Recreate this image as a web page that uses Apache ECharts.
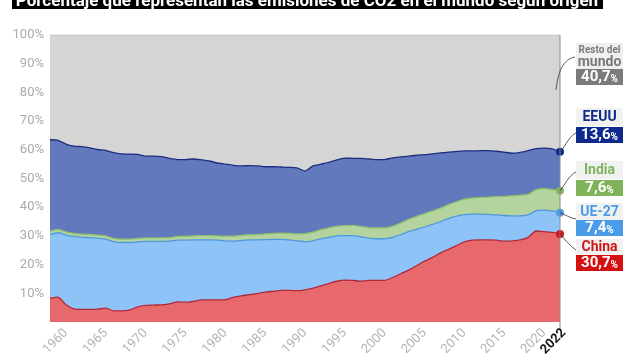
<!DOCTYPE html>
<html><head><meta charset="utf-8">
<script src="https://cdn.jsdelivr.net/npm/echarts@6/dist/echarts.min.js"></script>
<style>html,body{margin:0;padding:0;background:#fff}#c{width:640px;height:364px}</style>
</head><body><div id="c"></div>
<script>
const years = ['1958','1959','1960','1961','1962','1963','1964','1965','1966','1967',
'1968','1969','1970','1971','1972','1973','1974','1975','1976','1977',
'1978','1979','1980','1981','1982','1983','1984','1985','1986','1987',
'1988','1989','1990','1991','1992','1993','1994','1995','1996','1997',
'1998','1999','2000','2001','2002','2003','2004','2005','2006','2007',
'2008','2009','2010','2011','2012','2013','2014','2015','2016','2017',
'2018','2019','2020','2021','2022'];
const china = [8.3,8.7,6.0,4.6,4.4,4.4,4.5,4.8,3.9,3.9,
4.2,5.3,5.8,5.9,6.0,6.3,7.0,6.9,7.2,7.7,
7.7,7.7,7.8,8.6,9.1,9.5,9.9,10.4,10.7,11.0,
11.0,10.9,11.2,11.8,12.6,13.4,14.2,14.6,14.5,14.2,
14.5,14.5,14.5,15.5,16.8,18.1,19.6,21.2,22.5,24.1,
25.3,26.6,27.9,28.5,28.6,28.6,28.5,28.2,28.3,28.6,
29.5,31.7,31.5,31.2,30.7];
const ue = [22.2,22.4,24.3,25.2,25.1,25.0,24.7,24.1,24.1,23.8,
23.5,22.6,22.3,22.2,22.1,21.9,21.5,21.6,21.4,20.9,
20.9,20.8,20.5,19.6,19.3,19.1,18.7,18.3,18.1,17.8,
17.6,17.4,16.8,16.5,16.4,16.1,15.8,15.5,15.6,15.5,
14.7,14.5,14.5,14.0,13.6,13.4,12.7,11.9,11.5,10.9,
10.7,10.3,9.5,9.1,9.0,8.9,8.8,8.9,8.7,8.4,
7.8,7.1,7.5,7.5,7.4];
const india = [1.2,1.2,1.1,1.1,1.1,1.1,1.1,1.1,1.1,1.2,
1.2,1.2,1.2,1.2,1.2,1.2,1.3,1.4,1.4,1.5,
1.5,1.5,1.6,1.7,1.8,1.8,1.9,2.0,2.1,2.2,
2.3,2.4,2.8,3.0,3.2,3.3,3.4,3.5,3.6,3.6,
3.7,3.8,3.8,3.9,4.1,4.3,4.5,4.7,4.7,4.7,
4.9,5.0,5.4,5.6,5.8,6.0,6.4,6.7,7.0,7.2,
7.2,7.3,7.5,7.5,7.6];
const eeuu = [31.8,31.0,30.6,30.4,30.5,30.2,29.8,29.8,29.9,29.7,
29.6,29.3,28.5,28.5,28.3,27.6,26.8,26.7,26.8,26.4,
26.0,25.4,25.1,24.7,24.2,24.1,23.9,23.4,23.2,23.0,
23.0,23.0,21.8,23.1,22.8,22.8,23.1,23.5,23.3,23.7,
23.9,23.8,23.8,23.8,23.0,22.0,21.3,20.5,19.9,19.2,
18.3,17.5,16.8,16.4,16.3,16.2,15.8,15.4,14.8,14.9,
15.2,14.3,14.1,14.1,13.6];
const resto = [36.5,36.7,38.0,38.7,38.9,39.3,39.9,40.2,41.0,41.4,
41.5,41.6,42.2,42.2,42.4,43.0,43.4,43.4,43.2,43.5,
43.9,44.6,45.0,45.4,45.6,45.5,45.6,45.9,45.9,46.0,
46.1,46.3,47.4,45.6,45.0,44.4,43.5,42.9,43.0,43.0,
43.2,43.4,43.4,42.8,42.5,42.2,41.9,41.7,41.4,41.1,
40.8,40.6,40.4,40.4,40.3,40.3,40.5,40.8,41.2,40.9,
40.3,39.6,39.4,39.7,40.7];
const seriesNames = ['China','UE-27','India','EEUU','Resto del mundo'];
const finalText = ['30,7','7,4','7,6','13,6','40,7'];
const lastYearLabel = '2022';
const title = 'Porcentaje que representan las emisiones de CO2 en el mundo según origen';

const fills = ['#e8696b','#8ec3f7','#b4d39e','#6279bd','#d5d5d5'];
const lines = ['#b0283a','#4f97de','#8cbf6c','#1c2c7e','#bdbdbd'];
const dots  = ['#d01515','#4a9be8','#86b565','#0d2a8c',null];
const allData = [china, ue, india, eeuu, resto];

const chart = echarts.init(document.getElementById('c'), null, {renderer:'canvas'});
const last = years.length - 1;

const series = allData.map((arr, k) => ({
  name: seriesNames[k], type: 'line', stack: 'total', smooth: 0.2,
  symbol: 'none', showSymbol: true, showAllSymbol: true,
  lineStyle: {color: lines[k], width: k === 4 ? 1 : 1.3},
  areaStyle: {color: fills[k], opacity: 1},
  itemStyle: {color: dots[k] || lines[k]},
  emphasis: {disabled: true},
  data: arr.map((v, i) => (i === last && dots[k]) ?
    {value: v, symbol: 'circle', symbolSize: 8, itemStyle: {color: dots[k], borderWidth: 0}} : v),
  z: 2
}));

chart.setOption({
  animation: false,
  backgroundColor: '#fff',
  textStyle: {fontFamily: 'Roboto'},
  grid: {left: 50, right: 80, top: 35, bottom: 42},
  xAxis: {
    type: 'category', data: years, boundaryGap: false,
    axisLine: {show: false},
    axisTick: {show: false},
    axisLabel: {
      interval: (i, v) => (+v) % 5 === 0,
      showMinLabel: true, showMaxLabel: true, hideOverlap: false,
      rotate: 45, color: '#b4b4b4', fontSize: 13, margin: 9, fontFamily: 'Roboto'
    },
    splitLine: {show: false}
  },
  yAxis: {
    type: 'value', min: 0, max: 100, interval: 10,
    axisLine: {show: false}, axisTick: {show: false}, splitLine: {show: false},
    axisLabel: {formatter: v => v === 0 ? '' : v + '%', color: '#aaaaaa', fontSize: 13, margin: 6, fontFamily: 'Roboto'}
  },
  series: series
});

// cumulative tops at 2022 for connectors
let cum = 0; const tops = [];
for (let k = 0; k < 5; k++) { cum += allData[k][last]; tops.push(cum); }
const px = tops.map(t => chart.convertToPixel({gridIndex: 0}, [years[last], t]));
const base = chart.convertToPixel({gridIndex: 0}, [years[last], 0]);

const BX = 576, BW = 47;
function box(y, h, color) { return {type: 'rect', shape: {x: BX, y: y, width: BW, height: h}, style: {fill: color}, z: 10}; }
function valText(y, txt) {
  return {type: 'text', x: BX + BW / 2, y: y, z: 11, style: {
    text: '{v|' + txt + '}{p|%}', align: 'center', verticalAlign: 'middle',
    rich: {v: {fill: '#fff', fontSize: 15, fontWeight: 'bold', fontFamily: 'Roboto'},
           p: {fill: '#fff', fontSize: 10, fontWeight: 'bold', fontFamily: 'Roboto', padding: [3, 0, 0, 0]}}}};
}
function nameText(y, txt, color, size) {
  return {type: 'text', x: BX + BW / 2, y: y, z: 11, style: {
    text: txt, fill: color, fontSize: size, fontWeight: 'bold', fontFamily: 'Roboto',
    align: 'center', verticalAlign: 'middle'}};
}
function curve(x1, y1, cx1, cy1, cx2, cy2, x2, y2) {
  return {type: 'bezierCurve', z: 12, shape: {x1: x1, y1: y1, cpx1: cx1, cpy1: cy1, cpx2: cx2, cpy2: cy2, x2: x2, y2: y2},
    style: {stroke: '#333', lineWidth: 0.8, fill: null}};
}

const g = [];
// vertical reference line at 2022 (extends below plot like a tick)
g.push({type: 'line', z: 5, shape: {x1: base[0], y1: px[4][1], x2: base[0], y2: base[1] + 6},
  style: {stroke: '#8a8a8a', lineWidth: 1}});
// last year label, bold black, rotated like the axis labels
g.push({type: 'text', x: base[0] + 4, y: base[1] + 9, rotation: Math.PI / 4, z: 6,
  style: {text: lastYearLabel, fill: '#111', fontSize: 13, fontWeight: 'bold', fontFamily: 'Roboto',
    align: 'right', verticalAlign: 'middle'}});
// title bar (cut off at top)
g.push({type: 'rect', shape: {x: 12, y: -20, width: 591, height: 29}, style: {fill: '#000'}, z: 20});
g.push({type: 'text', x: 307, y: 10, z: 21, style: {text: title, fill: '#fff', fontSize: 17, fontWeight: 'bold',
  fontFamily: 'Roboto', align: 'center', verticalAlign: 'bottom'}});

// Resto del mundo
g.push(box(43, 26, '#efefef'));
g.push(nameText(50, 'Resto del', '#7a7a7a', 10));
g.push(nameText(62, 'mundo', '#7a7a7a', 14));
g.push(box(69, 16, '#7b7b7b'));
g.push(valText(77.5, finalText[4]));
g.push(curve(556, 90, 558, 72, 563, 59, 575, 57));
// EEUU
g.push(box(108, 18, '#f1f1f1'));
g.push(nameText(117.5, 'EEUU', '#0d2a8c', 14));
g.push(box(127, 16, '#0d2a8c'));
g.push(valText(135.5, finalText[3]));
g.push(curve(px[3][0], px[3][1], px[3][0] + 6, px[3][1] - 6, px[3][0] + 9, 136, 576, 133));
// India
g.push(box(161, 18, '#f1f1f1'));
g.push(nameText(170.5, 'India', '#7fb35a', 14));
g.push(box(180, 16, '#7fb35a'));
g.push(valText(188.5, finalText[2]));
g.push(curve(px[2][0], px[2][1], px[2][0] + 5, px[2][1] - 6, px[2][0] + 9, 175, 576, 172));
// UE-27
g.push(box(203, 17, '#f1f1f1'));
g.push(nameText(212, 'UE-27', '#4a9be8', 14));
g.push(box(220, 16, '#4a9be8'));
g.push(valText(228.5, finalText[1]));
g.push(curve(px[1][0], px[1][1], px[1][0] + 5, px[1][1] + 2, px[1][0] + 10, 218, 576, 219));
// China
g.push(box(239, 16, '#f1f1f1'));
g.push(nameText(247.5, 'China', '#d01515', 14));
g.push(box(255, 16, '#d41111'));
g.push(valText(263.5, finalText[0]));
g.push(curve(px[0][0], px[0][1], px[0][0] + 5, px[0][1] + 6, px[0][0] + 10, 246, 576, 250));

chart.setOption({graphic: g});
</script>
</body></html>
